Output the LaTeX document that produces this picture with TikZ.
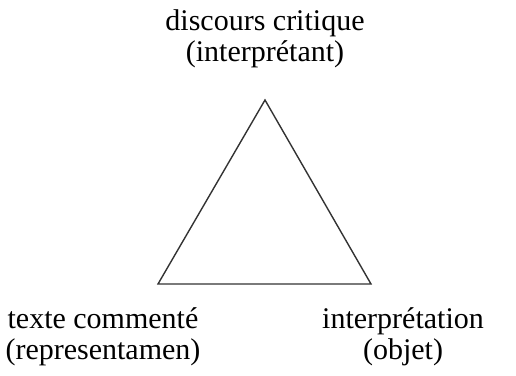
\documentclass[tikz,border=0pt]{standalone}
\usepackage{fontspec}
\setmainfont{Liberation Serif}
\usetikzlibrary{positioning}

\tikzset{
  sign/.style={align=center, inner sep=0pt, anchor=north,
    font=\fontsize{30}{31}\selectfont},
  side/.style={line width=1.4pt, draw=black!80, line join=miter}
}

\begin{document}
\begin{tikzpicture}[x=1pt, y=-1pt]
  \useasboundingbox (0,0) rectangle (516,375);
  \coordinate (I) at (265,100);
  \coordinate (R) at (158,284);
  \coordinate (O) at (371,284);

  \node[sign] (interp) at (265,9)   {discours critique\\(interprétant)};
  \node[sign] (repr)   at (103,307) {texte commenté\\(representamen)};
  \node[sign] (objet)  at (403,307) {interprétation\\(objet)};

  \draw[side] (I) -- (R) -- (O) -- cycle;
\end{tikzpicture}
\end{document}
